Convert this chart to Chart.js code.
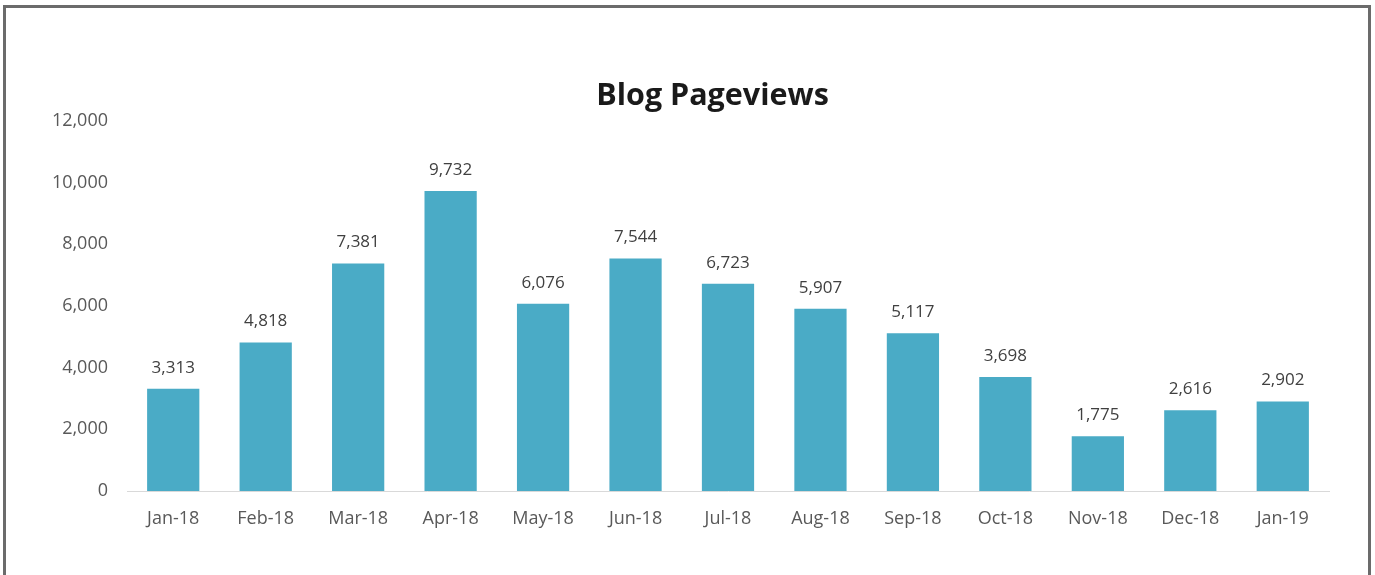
<!DOCTYPE html>
<html>
<head>
<meta charset="utf-8">
<script src="https://cdn.jsdelivr.net/npm/chart.js@4.4.0/dist/chart.umd.min.js"></script>
<style>
  html, body { margin: 0; padding: 0; background: #ffffff; }
  #wrap { position: relative; width: 1375px; height: 575px; overflow: hidden; background: #fff; }
  #frame { position: absolute; left: 3px; top: 5px; width: 1362px; height: 600px; border: 3px solid #6b6b6b; box-sizing: content-box; }
  #c { position: absolute; left: 0; top: 0; }
</style>
</head>
<body>
<div id="wrap">
  <div id="frame"></div>
  <canvas id="c" width="1375" height="575"></canvas>
</div>
<script>
const categories = ["Jan-18","Feb-18","Mar-18","Apr-18","May-18","Jun-18","Jul-18","Aug-18","Sep-18","Oct-18","Nov-18","Dec-18","Jan-19"];
const pageviews = [3313, 4818, 7381, 9732, 6076, 7544, 6723, 5907, 5117, 3698, 1775, 2616, 2902];
const yTicks = [0, 2000, 4000, 6000, 8000, 10000, 12000];
const chartTitle = "Blog Pageviews";

const FONT = "'Open Sans', 'Noto Sans', sans-serif";

const valueLabels = {
  id: 'valueLabels',
  afterDatasetsDraw(chart) {
    const ctx = chart.ctx;
    const meta = chart.getDatasetMeta(0);
    ctx.save();
    ctx.font = "17px " + FONT;
    ctx.fillStyle = "#404040";
    ctx.textAlign = "center";
    ctx.textBaseline = "middle";
    meta.data.forEach((bar, i) => {
      const v = chart.data.datasets[0].data[i];
      ctx.fillText(v.toLocaleString('en-US'), bar.x, bar.y - 21);
    });
    ctx.restore();
  }
};

new Chart(document.getElementById('c'), {
  type: 'bar',
  data: {
    labels: categories,
    datasets: [{
      data: pageviews,
      backgroundColor: '#4aabc6',
      borderWidth: 0,
      barPercentage: 0.565,
      categoryPercentage: 1.0
    }]
  },
  options: {
    responsive: false,
    animation: false,
    devicePixelRatio: 1,
    layout: { padding: { left: 50, right: 0, top: 0, bottom: 0 } },
    plugins: {
      legend: { display: false },
      tooltip: { enabled: false },
      title: {
        display: true,
        text: chartTitle,
        color: '#1a1a1a',
        font: { family: FONT, size: 30.5, weight: 'bold' },
        padding: { top: 78.5, bottom: 5.9 }
      }
    },
    scales: {
      x: {
        grid: { display: false, drawTicks: false },
        border: { display: true, color: '#d9d9d9', width: 1 },
        ticks: { color: '#595959', font: { family: FONT, size: 18 }, padding: 17, maxRotation: 0 },
        afterFit(scale) { scale.height = 84; }
      },
      y: {
        min: 0, max: 12000,
        afterBuildTicks(scale) { scale.ticks = yTicks.map(v => ({ value: v })); },
        grid: { display: false, drawTicks: false },
        border: { display: false },
        ticks: {
          color: '#595959', font: { family: FONT, size: 18 }, padding: 19,
          callback: v => v.toLocaleString('en-US')
        },
        afterFit(scale) { scale.width = 77; }
      },
      yRight: {
        position: 'right',
        display: true,
        min: 0, max: 12000,
        grid: { display: false, drawTicks: false },
        border: { display: false },
        ticks: { display: false },
        afterFit(scale) { scale.width = 46; }
      }
    }
  },
  plugins: [valueLabels]
});
</script>
</body>
</html>
